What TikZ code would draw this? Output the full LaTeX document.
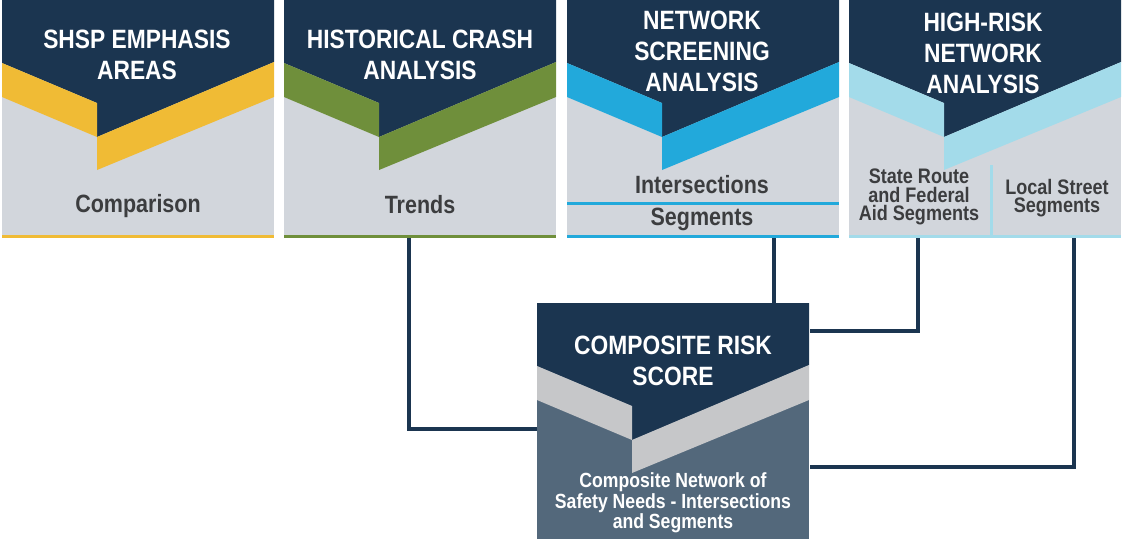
\documentclass[tikz,border=0pt]{standalone}
\usepackage{fontspec}
\newfontfamily\condfont[FakeStretch=0.86]{Liberation Sans}
\definecolor{navy}{HTML}{1B3550}
\definecolor{panelgrey}{HTML}{D2D6DC}
\definecolor{labelgrey}{HTML}{3C3D3F}
\definecolor{shspyellow}{HTML}{F0BB35}
\definecolor{crashgreen}{HTML}{6F8F3B}
\definecolor{screenblue}{HTML}{22A9DB}
\definecolor{riskblue}{HTML}{A3DBEA}
\definecolor{scoreslate}{HTML}{53687B}
\definecolor{scoreband}{HTML}{C6C7C9}
\tikzset{
  headtext/.style={text=white, align=center, inner sep=0pt, font=\condfont\bfseries\fontsize{26.5}{31}\selectfont},
  sublabel/.style={text=labelgrey, align=center, inner sep=0pt, font=\condfont\bfseries\fontsize{25}{29}\selectfont},
  smalllabel/.style={text=labelgrey, align=center, inner sep=0pt, font=\condfont\bfseries\fontsize{21}{18.5}\selectfont},
  scoretext/.style={text=white, align=center, inner sep=0pt, font=\condfont\bfseries\fontsize{20.5}{20.5}\selectfont},
  link/.style={draw=navy, line width=3.5pt}
}
\begin{document}
\begin{tikzpicture}[x=1pt,y=-1pt]
\newcommand{\chevpanel}[5]{
\fill[#5] (#1,#2) rectangle (#1+272,#2+#3);
\fill[navy] (#1,#2) -- (#1+272,#2) -- (#1+272,#2+62) -- (#1+95,#2+137) -- (#1+95,#2+103) -- (#1,#2+63) -- cycle;
\fill[#4] (#1,#2+63) -- (#1+95,#2+103) -- (#1+95,#2+137) -- (#1,#2+97) -- cycle;
\fill[#4] (#1+95,#2+137) -- (#1+272,#2+62) -- (#1+272,#2+97) -- (#1+95,#2+170) -- cycle;
}
\useasboundingbox (0,0) rectangle (1122,539);

\chevpanel{2}{0}{238}{shspyellow}{panelgrey}
\chevpanel{284}{0}{238}{crashgreen}{panelgrey}
\chevpanel{567}{0}{238}{screenblue}{panelgrey}
\chevpanel{849}{0}{238}{riskblue}{panelgrey}

\fill[shspyellow] (2,235) rectangle (274,238);
\fill[crashgreen] (284,235) rectangle (556,238);
\fill[screenblue] (567,235) rectangle (839,238);
\fill[screenblue] (567,202) rectangle (839,205);
\fill[riskblue] (849,235) rectangle (1121,238);
\fill[riskblue] (989.5,165) rectangle (992.5,235);

\node[headtext] (shsp) at (137,55) {SHSP EMPHASIS\\AREAS};
\node[sublabel] (comparison) at (138,206) {Comparison};
\node[headtext] (crash) at (420,55) {HISTORICAL CRASH\\ANALYSIS};
\node[sublabel] (trends) at (420,205) {Trends};
\node[headtext] (screening) at (702,51) {NETWORK\\SCREENING\\ANALYSIS};
\node[sublabel] (intersections) at (702,185) {Intersections};
\node[sublabel] (segments) at (702,219) {Segments};
\node[headtext] (highrisk) at (983,53) {HIGH-RISK\\NETWORK\\ANALYSIS};
\node[smalllabel] (stateroute) at (919,197) {State Route\\and Federal\\Aid Segments};
\node[smalllabel] (localstreet) at (1057,198) {Local Street\\Segments};

\coordinate (crash-out) at (409,238);
\coordinate (screen-out) at (774,238);
\coordinate (state-out) at (918,238);
\coordinate (local-out) at (1074,238);
\coordinate (score-left) at (537,429);
\coordinate (score-top) at (774,303);
\coordinate (score-right) at (810,331);
\coordinate (score-low) at (810,467);

\draw[link] (crash-out) |- (score-left);
\draw[link] (screen-out) -- (score-top);
\draw[link] (state-out) |- (score-right);
\draw[link] (local-out) |- (score-low);

\chevpanel{537}{303}{236}{scoreband}{scoreslate}
\node[headtext] (score) at (673,361) {COMPOSITE RISK\\SCORE};
\node[scoretext] (network) at (673,503) {Composite Network of\\Safety Needs - Intersections\\and Segments};
\end{tikzpicture}
\end{document}
